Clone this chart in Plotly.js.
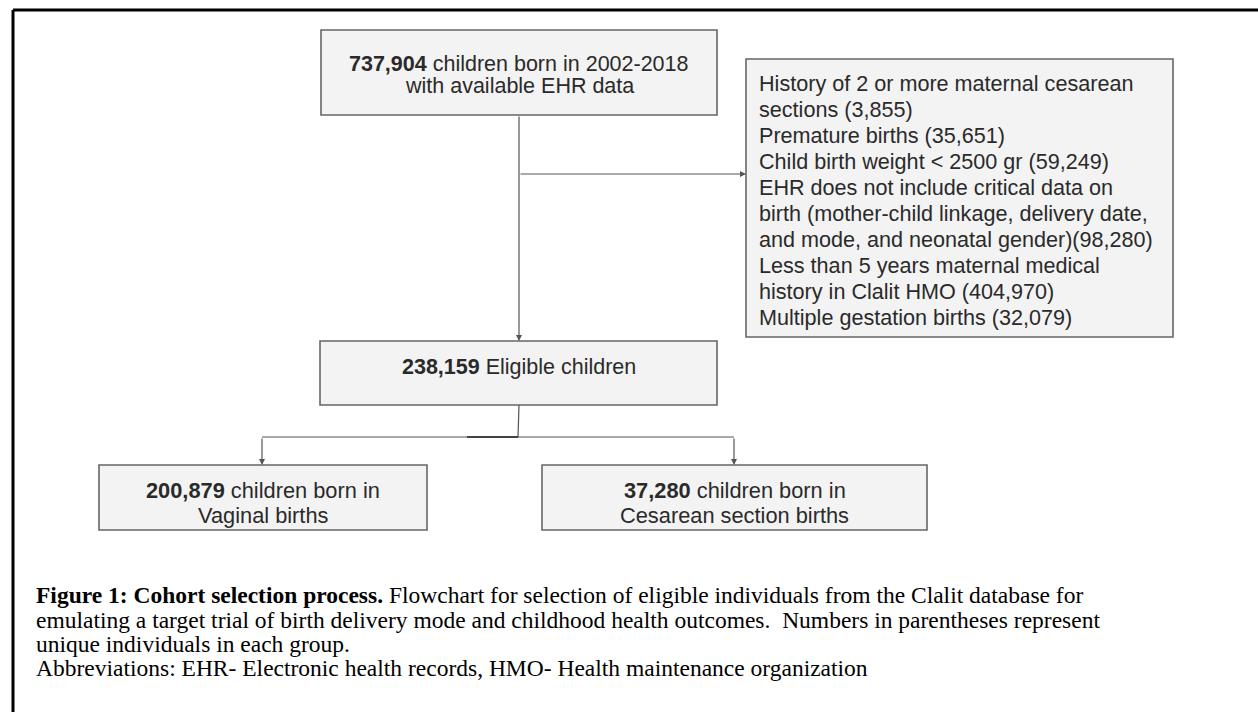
<!DOCTYPE html>
<html>
<head>
<meta charset="utf-8">
<script src="https://cdn.plot.ly/plotly-3.0.1.min.js"></script>
<style>html,body{margin:0;padding:0;background:#fff;}#chart{width:1258px;height:712px;}</style>
</head>
<body>
<div id="chart"></div>
<script>
// ---- data ----
const stageCounts = [737904, 238159, 200879, 37280];
const stageLine1 = ["children born in 2002-2018", "Eligible children", "children born in", "children born in"];
const stageLine2 = ["with available EHR data", "", "Vaginal births", "Cesarean section births"];
const exclusionLines = [
  "History of 2 or more maternal cesarean",
  "sections (3,855)",
  "Premature births (35,651)",
  "Child birth weight < 2500 gr (59,249)",
  "EHR does not include critical data on",
  "birth (mother-child linkage, delivery date,",
  "and mode, and neonatal gender)(98,280)",
  "Less than 5 years maternal medical",
  "history in Clalit HMO (404,970)",
  "Multiple gestation births (32,079)"
];
const captionTitle = "Figure 1: Cohort selection process.";
const captionLines = [
  " Flowchart for selection of eligible individuals from the Clalit database for",
  "emulating a target trial of birth delivery mode and childhood health outcomes.  Numbers in parentheses represent",
  "unique individuals in each group.",
  "Abbreviations: EHR- Electronic health records, HMO- Health maintenance organization"
];

// ---- layout helpers ----
const fmt = n => n.toLocaleString("en-US");
const boxFill = "#f3f3f3", boxLine = "#666666", lineCol = "#555555", txtCol = "#2a2a2a";
const SANS = "Liberation Sans, Arial, sans-serif";
const boxes = [
  {x0:321, x1:717, y0:30,  y1:115, size:21.5, ly:[64, 86]},
  {x0:320, x1:717, y0:341, y1:405, size:21.5, ly:[367]},
  {x0:99,  x1:427, y0:465, y1:530, size:21.8, ly:[490, 515]},
  {x0:542, x1:927, y0:465, y1:530, size:21.8, ly:[490, 515]}
];
const exBox = {x0:746, x1:1173, y0:59, y1:337};

const shapes = [];
const annotations = [];
function rect(b){
  shapes.push({type:"rect", xref:"x", yref:"y", x0:b.x0, x1:b.x1, y0:b.y0, y1:b.y1,
    fillcolor:boxFill, line:{color:boxLine, width:1.6}, layer:"below"});
}
function line(x0,y0,x1,y1,col,w){
  shapes.push({type:"line", xref:"x", yref:"y", x0:x0, y0:y0, x1:x1, y1:y1, line:{color:col||lineCol, width:w||1.2}});
}
function arrow(x0,y0,x1,y1){
  annotations.push({x:x1, y:y1, ax:x0, ay:y0, xref:"x", yref:"y", axref:"x", ayref:"y",
    text:"", showarrow:true, arrowhead:2, arrowsize:1, arrowwidth:1.2, arrowcolor:lineCol, standoff:0});
}
function label(x, y, text, size, family, anchor, color){
  annotations.push({x:x, y:y, xref:"x", yref:"y", text:text, showarrow:false,
    font:{family:family, size:size, color:color||txtCol}, xanchor:anchor||"center", yanchor:"middle", align:"left"});
}

// frame
line(13, 10, 1270, 10, "#000", 3);
line(13, 10, 13, 720, "#000", 3);

// stage boxes
boxes.forEach((b,i)=>{
  rect(b);
  const cx = (b.x0+b.x1)/2;
  label(cx, b.ly[0], "<b>"+fmt(stageCounts[i])+"</b> "+stageLine1[i], b.size, SANS);
  if (stageLine2[i]) label(cx, b.ly[1], stageLine2[i], b.size, SANS);
});

// exclusion box
rect(exBox);
exclusionLines.forEach((t,i)=> label(757, 83 + i*26, t, 21.6, SANS, "left"));

// connectors
arrow(519, 115, 519, 341);
arrow(519, 174, 746, 174);
line(519, 405, 518, 437);
line(262, 437, 734, 437);
line(467, 437, 518, 437, "#222", 1.6);
arrow(262, 437, 262, 465);
arrow(734, 437, 734, 465);

// caption
const SERIF = "Liberation Serif, Times New Roman, serif";
const capY = [595, 620, 644, 668];
label(34, capY[0], "<b>"+captionTitle+"</b>"+captionLines[0], 23.5, SERIF, "left", "#000");
for(let i=1;i<captionLines.length;i++) label(34, capY[i], captionLines[i], 23.5, SERIF, "left", "#000");

const layout = {
  width:1258, height:712, margin:{l:0,r:0,t:0,b:0},
  paper_bgcolor:"#fff", plot_bgcolor:"#fff",
  xaxis:{range:[0,1258], visible:false, fixedrange:true},
  yaxis:{range:[712,0], visible:false, fixedrange:true},
  showlegend:false, shapes:shapes, annotations:annotations
};
Plotly.newPlot("chart", [{x:[], y:[], type:"scatter", mode:"markers", hoverinfo:"skip"}], layout, {staticPlot:true, displayModeBar:false});
</script>
</body>
</html>
